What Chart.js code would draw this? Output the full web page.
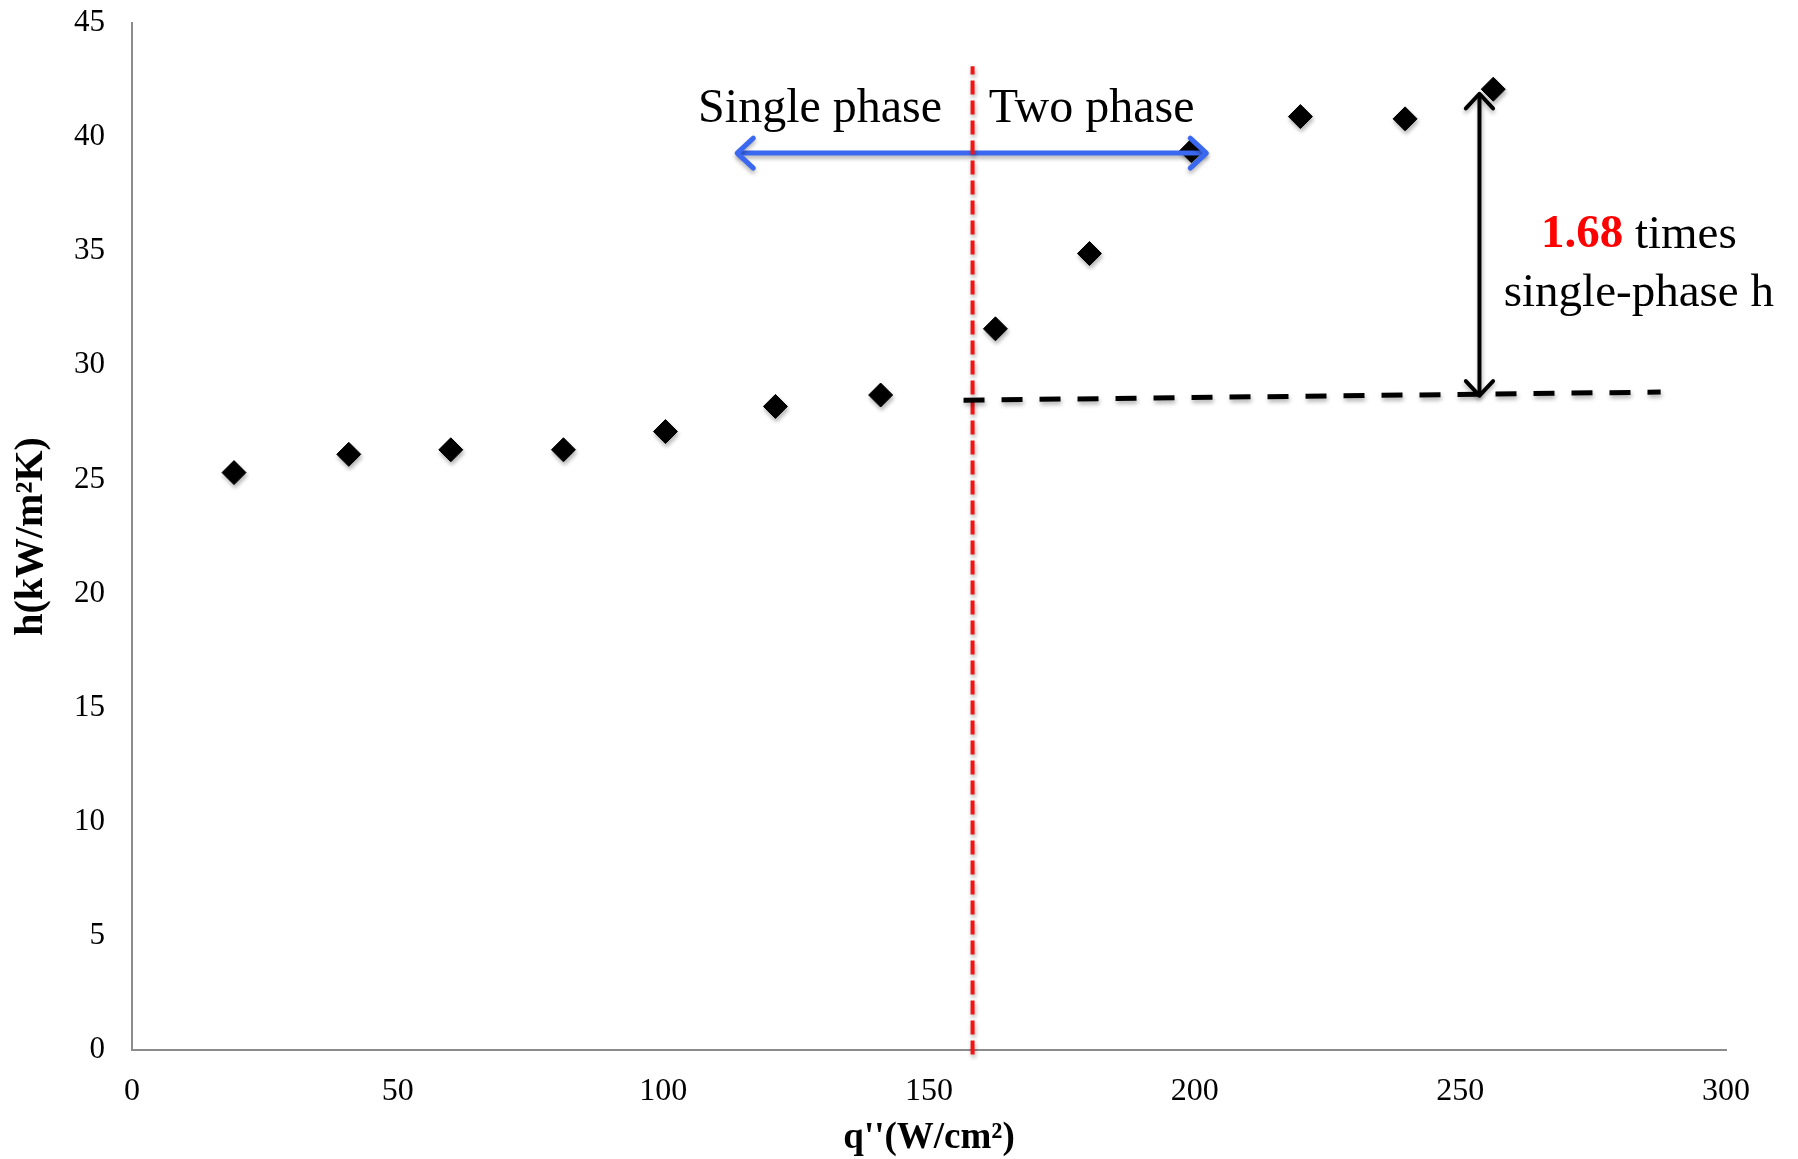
<!DOCTYPE html>
<html>
<head>
<meta charset="utf-8">
<script src="https://cdn.jsdelivr.net/npm/chart.js@4.4.1/dist/chart.umd.min.js"></script>
<style>
  html, body { margin: 0; padding: 0; background: #fff; }
  .wrap { width: 1798px; height: 1159px; position: relative; }
</style>
</head>
<body>
<div class="wrap"><canvas class="h-chart"></canvas></div>
<script>
// Measured points: heat flux q'' (W/cm2) vs heat transfer coefficient h (kW/m2K)
const heatFlux = [19.2, 40.8, 60, 81.2, 100.4, 121.1, 140.9, 162.5, 180.2, 199.4, 219.9, 239.6, 256.2];
const htc = [25.3, 26.1, 26.3, 26.3, 27.1, 28.2, 28.7, 31.6, 34.9, 39.4, 40.9, 40.8, 42.1];

// Axis ticks
const xTicks = [0, 50, 100, 150, 200, 250, 300];
const yTicks = [0, 5, 10, 15, 20, 25, 30, 35, 40, 45];

// Annotation lines (data coordinates)
const boundaryX = [158.2, 158.2];
const boundaryY = [-0.2, 43.1];
const phaseArrowX = [113.9, 202.2];
const phaseArrowY = [39.3, 39.3];
const baselineX = [156.5, 287.7];
const baselineY = [28.47, 28.83];
const ratioArrowX = [253.6, 253.6];
const ratioArrowY = [28.67, 41.9];

// Annotation texts
const phaseLabels = ["Single phase", "Two phase"];
const phaseLabelX = [129.5, 180.6];
const phaseLabelY = [41.2, 41.2];
const ratioValue = "1.68";
const ratioLines = [" times", "single-phase h"];
const ratioLabelX = 283.6;
const ratioLabelY = [35.7, 33.15];

const serif = "'Liberation Serif', 'DejaVu Serif', serif";

function toPoints(xs, ys) {
  return xs.map((x, i) => ({ x: x, y: ys[i] }));
}

// Draw an open chevron arrow head with the tip at (x, y), pointing along angle
function drawHead(ctx, x, y, angle, size, color, width) {
  const spread = Math.PI / 4.2;
  ctx.save();
  ctx.strokeStyle = color;
  ctx.lineWidth = width;
  ctx.lineCap = "round";
  ctx.lineJoin = "round";
  ctx.beginPath();
  ctx.moveTo(x - size * Math.cos(angle - spread), y - size * Math.sin(angle - spread));
  ctx.lineTo(x, y);
  ctx.lineTo(x - size * Math.cos(angle + spread), y - size * Math.sin(angle + spread));
  ctx.stroke();
  ctx.restore();
}

// Soft drop shadow like the original slide graphics
const shadowPlugin = {
  id: "shadow",
  beforeDatasetsDraw(chart) {
    const c = chart.ctx;
    c.save();
    c.shadowColor = "rgba(0,0,0,0.3)";
    c.shadowBlur = 4;
    c.shadowOffsetX = 1;
    c.shadowOffsetY = 3;
  },
  afterDatasetsDraw(chart) {
    chart.ctx.restore();
  },
};

// Arrow heads and text labels
const annotationPlugin = {
  id: "annotations",
  afterDraw(chart) {
    const c = chart.ctx;
    const xs = chart.scales.x;
    const ys = chart.scales.y;
    const px = (v) => xs.getPixelForValue(v);
    const py = (v) => ys.getPixelForValue(v);

    c.save();
    c.shadowColor = "rgba(0,0,0,0.3)";
    c.shadowBlur = 4;
    c.shadowOffsetY = 3;
    // blue double arrow
    drawHead(c, px(phaseArrowX[0]), py(phaseArrowY[0]), Math.PI, 22, "#3a68f0", 5);
    drawHead(c, px(phaseArrowX[1]), py(phaseArrowY[1]), 0, 22, "#3a68f0", 5);
    // black vertical double arrow
    drawHead(c, px(ratioArrowX[0]), py(ratioArrowY[0]), Math.PI / 2, 20, "#000", 4);
    drawHead(c, px(ratioArrowX[1]), py(ratioArrowY[1]), -Math.PI / 2, 20, "#000", 4);
    c.restore();

    c.save();
    c.fillStyle = "#000";
    c.textBaseline = "middle";
    c.textAlign = "center";
    c.font = "48px " + serif;
    phaseLabels.forEach((t, i) => {
      c.fillText(t, px(phaseLabelX[i]), py(phaseLabelY[i]));
    });

    // "1.68 times" with the number in bold red
    const boldFont = "bold 47px " + serif;
    const normFont = "47px " + serif;
    c.font = boldFont;
    const w1 = c.measureText(ratioValue).width;
    c.font = normFont;
    const w2 = c.measureText(ratioLines[0]).width;
    const startX = px(ratioLabelX) - (w1 + w2) / 2;
    c.textAlign = "left";
    c.font = boldFont;
    c.fillStyle = "#ff0000";
    c.fillText(ratioValue, startX, py(ratioLabelY[0]));
    c.font = normFont;
    c.fillStyle = "#000";
    c.fillText(ratioLines[0], startX + w1, py(ratioLabelY[0]));
    c.textAlign = "center";
    c.fillText(ratioLines[1], px(ratioLabelX), py(ratioLabelY[1]));
    c.restore();
  },
};

const ctx = document.querySelector(".h-chart").getContext("2d");

const data = {
  datasets: [
    {
      label: "h",
      data: toPoints(heatFlux, htc),
      pointStyle: "rectRot",
      pointRadius: 12,
      pointHoverRadius: 12,
      backgroundColor: "#000",
      borderColor: "#000",
      borderWidth: 1,
      showLine: false,
      order: 5,
    },
    {
      label: "phase arrow",
      data: toPoints(phaseArrowX, phaseArrowY),
      showLine: true,
      borderColor: "#3a68f0",
      borderWidth: 5,
      pointRadius: 0,
      order: 4,
    },
    {
      label: "ratio arrow",
      data: toPoints(ratioArrowX, ratioArrowY),
      showLine: true,
      borderColor: "#000",
      borderWidth: 4,
      pointRadius: 0,
      order: 3,
    },
    {
      label: "boundary",
      data: toPoints(boundaryX, boundaryY),
      showLine: true,
      borderColor: "#f41414",
      borderWidth: 4,
      borderDash: [14, 6],
      pointRadius: 0,
      clip: false,
      order: 2,
    },
    {
      label: "single phase level",
      data: toPoints(baselineX, baselineY),
      showLine: true,
      borderColor: "#000",
      borderWidth: 5,
      borderDash: [21, 17],
      pointRadius: 0,
      order: 1,
    },
  ],
};

const config = {
  type: "scatter",
  data: data,
  options: {
    responsive: true,
    maintainAspectRatio: false,
    animation: false,
    layout: { autoPadding: false, padding: { top: 23, right: 72, left: 0, bottom: 0 } },
    plugins: {
      legend: { display: false },
      tooltip: { enabled: false },
    },
    scales: {
      x: {
        type: "linear",
        min: 0,
        max: 300,
        afterBuildTicks: (scale) => {
          scale.ticks = xTicks.map((v) => ({ value: v }));
        },
        afterFit: (scale) => {
          scale.height = 109;
          scale.paddingLeft = 0;
          scale.paddingRight = 0;
        },
        grid: { display: false, drawTicks: false },
        border: { display: true, color: "#8c8c8c", width: 2 },
        ticks: {
          color: "#000",
          padding: 22,
          font: { family: serif, size: 32 },
        },
        title: {
          display: true,
          text: "q''(W/cm²)",
          color: "#000",
          padding: { top: 0, bottom: 2 },
          font: { family: serif, size: 37, weight: "bold", lineHeight: 1 },
        },
      },
      y: {
        type: "linear",
        min: 0,
        max: 45,
        afterBuildTicks: (scale) => {
          scale.ticks = yTicks.map((v) => ({ value: v }));
        },
        afterFit: (scale) => {
          scale.width = 132;
          scale.paddingTop = 0;
          scale.paddingBottom = 0;
        },
        grid: { display: false, drawTicks: false },
        border: { display: true, color: "#8c8c8c", width: 2 },
        ticks: {
          color: "#000",
          padding: 27,
          font: { family: serif, size: 31 },
        },
        title: {
          display: true,
          text: "h(kW/m²K)",
          color: "#000",
          padding: { top: 12, bottom: 0 },
          font: { family: serif, size: 40, weight: "bold", lineHeight: 1 },
        },
      },
    },
  },
  plugins: [shadowPlugin, annotationPlugin],
};

const hChart = new Chart(ctx, config);
</script>
</body>
</html>
